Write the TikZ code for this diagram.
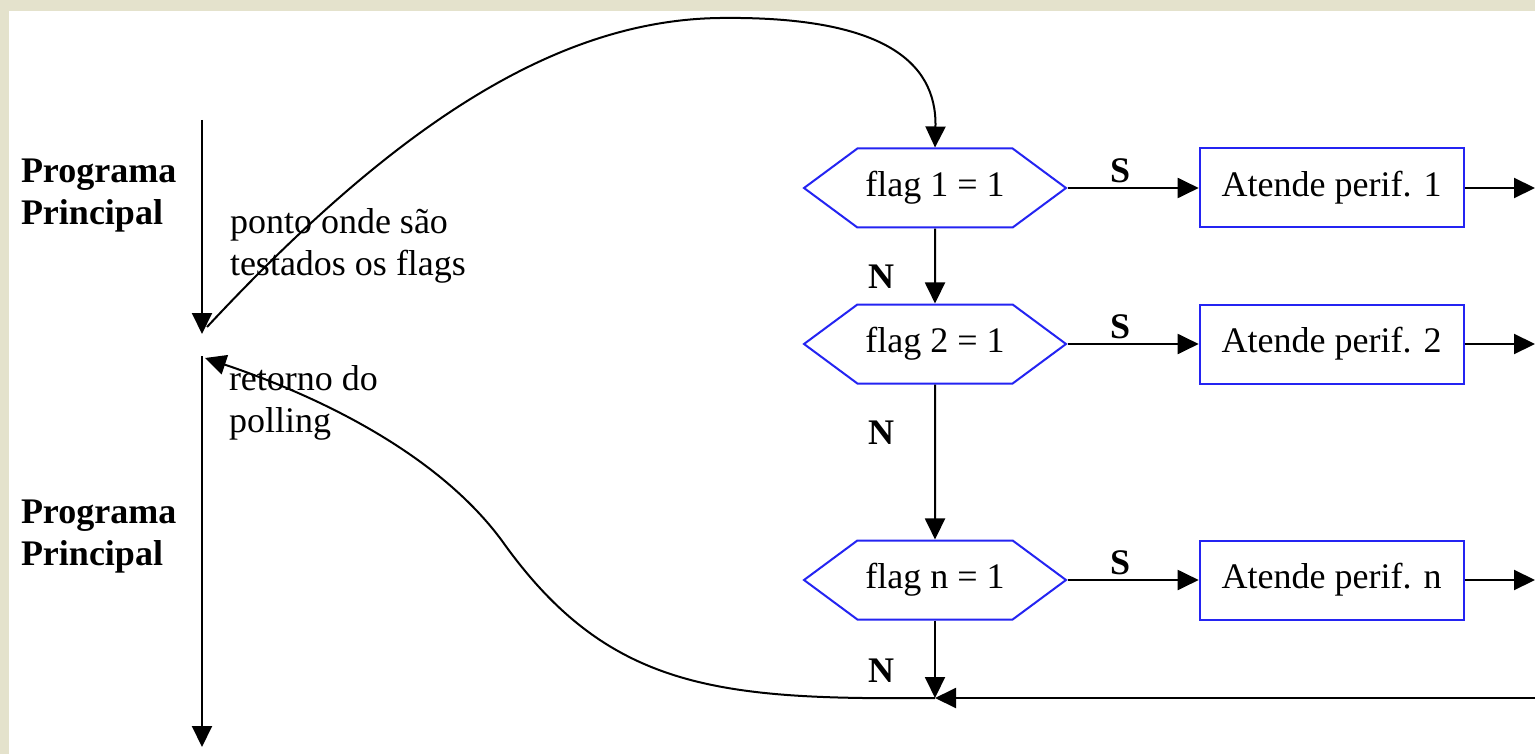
\documentclass[tikz,border=0pt]{standalone}
\usepackage{fontspec}
\setmainfont{Liberation Serif}
\usetikzlibrary{positioning, arrows.meta, shapes.symbols}
\definecolor{parchment}{HTML}{E4E2CC}
\definecolor{flagblue}{HTML}{2424F2}

\begin{document}
\begin{tikzpicture}[
  x=0.5pt, y=-0.5pt,
  node distance=65.5pt,
  every node/.style={font=\fontsize{18}{21}\selectfont, inner sep=0pt},
  flagtest/.style={shape=signal, signal to=west and east, signal pointer angle=73,
    draw=flagblue, line width=1pt, minimum width=131pt, minimum height=39.5pt},
  service/.style={draw=flagblue, line width=1pt, minimum width=132pt, minimum height=39.5pt},
  note/.style={align=left, anchor=west},
  progname/.style={align=left, anchor=west, font=\fontsize{18}{21}\selectfont\bfseries},
  yesno/.style={font=\fontsize{18}{21}\selectfont\bfseries},
  >={Triangle[length=10.5pt,width=10pt]},
  line width=1pt
]
  \fill[parchment] (0,0) rectangle (1535,754);
  \fill[white] (9,11) rectangle (1535,754);
  \useasboundingbox (0,0) rectangle (1535,754);

  \node[progname] (main1) at (20,196) {Programa\\Principal};
  \node[progname] (main2) at (20,537) {Programa\\Principal};
  \node[note] (poll) at (229,246) {ponto onde são\\testados os flags};
  \node[note] (back) at (228,403) {retorno do\\polling};

  \node[flagtest] (flag1) at (935,188) {flag 1 = 1};
  \node[flagtest] (flag2) at (935,344) {flag 2 = 1};
  \node[flagtest] (flagn) at (935,580) {flag n = 1};
  \node[service, right=of flag1] (serv1) {Atende perif. 1};
  \node[service, right=of flag2] (serv2) {Atende perif. 2};
  \node[service, right=of flagn] (servn) {Atende perif. n};

  \coordinate (out1) at (1535,188);
  \coordinate (out2) at (1535,344);
  \coordinate (outn) at (1535,580);
  \coordinate (entry) at (1535,698);
  \coordinate (join) at (935,698);
  \coordinate (tst) at (207,327);
  \coordinate (ret) at (205,358);
  \coordinate (top1) at (202,120);
  \coordinate (end1) at (202,334);
  \coordinate (top2) at (202,356);
  \coordinate (end2) at (202,747);

  \draw[->] (top1) -- (end1);
  \draw[->] (top2) -- (end2);

  \draw[->] (flag1) -- node[yesno, pos=0.4, above=2pt] {S} (serv1);
  \draw[->] (flag2) -- node[yesno, pos=0.4, above=2pt] {S} (serv2);
  \draw[->] (flagn) -- node[yesno, pos=0.4, above=2pt] {S} (servn);
  \draw[->] (serv1) -- (out1);
  \draw[->] (serv2) -- (out2);
  \draw[->] (servn) -- (outn);

  \draw[->] (flag1) -- node[yesno, pos=0.64, left=20pt] {N} (flag2);
  \draw[->] (flag2) -- node[yesno, pos=0.31, left=20pt] {N} (flagn);
  \draw[->] (flagn) -- node[yesno, pos=0.65, left=20pt] {N} (join);
  \draw[->] (entry) -- (join);

  \draw[->] (tst) .. controls (400,120) and (560,20) .. (720,18)
    .. controls (880,16) and (937,60) .. (flag1.north);
  \draw[->] (join) .. controls (720,700) and (610,690) .. (505,545)
    .. controls (445,460) and (330,400) .. (ret);
\end{tikzpicture}
\end{document}
